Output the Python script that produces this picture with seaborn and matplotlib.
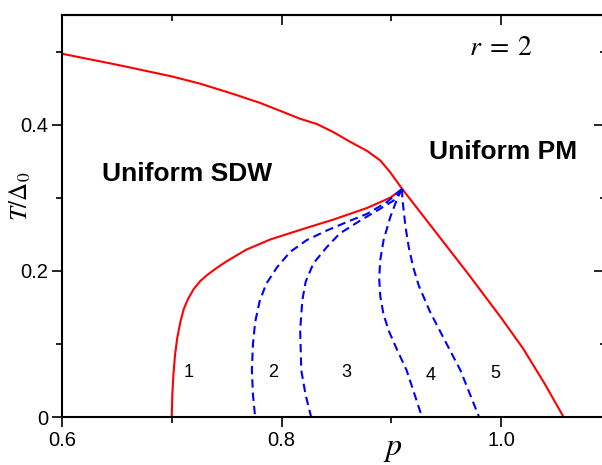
import numpy as np
import pandas as pd
import seaborn as sns
from matplotlib import pyplot as plt
from matplotlib.ticker import MultipleLocator

# SDW / PM boundary (upper red line, left of the tricritical point)
p_upper = [0.600, 0.650, 0.700, 0.726, 0.756, 0.780, 0.802, 0.817, 0.832, 0.847, 0.862, 0.878, 0.890, 0.899, 0.910]
T_upper = [0.497, 0.482, 0.466, 0.456, 0.442, 0.430, 0.417, 0.408, 0.401, 0.390, 0.377, 0.364, 0.351, 0.335, 0.312]

# PM boundary right of the tricritical point
p_right = [0.910, 0.940, 0.970, 1.000, 1.020, 1.040, 1.057]
T_right = [0.312, 0.254, 0.196, 0.136, 0.094, 0.045, 0.000]

# lower red line (uniform SDW -> modulated phases)
p_lower = [0.700, 0.7005, 0.7015, 0.703, 0.705, 0.708, 0.711, 0.715, 0.720, 0.726, 0.732, 0.741,
           0.750, 0.768, 0.790, 0.817, 0.847, 0.878, 0.899, 0.910]
T_lower = [0.000, 0.030, 0.058, 0.085, 0.108, 0.131, 0.148, 0.162, 0.175, 0.186, 0.194, 0.204,
           0.213, 0.229, 0.243, 0.256, 0.270, 0.286, 0.300, 0.312]

# blue dashed boundaries between regions 2..5
p_b2 = [0.910, 0.896, 0.878, 0.860, 0.841, 0.823, 0.808, 0.796, 0.786, 0.780, 0.776, 0.774, 0.773, 0.774, 0.776]
T_b2 = [0.312, 0.294, 0.278, 0.267, 0.255, 0.242, 0.226, 0.205, 0.182, 0.158, 0.130, 0.100, 0.064, 0.030, 0.000]
p_b3 = [0.910, 0.902, 0.890, 0.872, 0.853, 0.841, 0.829, 0.822, 0.819, 0.817, 0.818, 0.822, 0.827]
T_b3 = [0.312, 0.296, 0.285, 0.269, 0.251, 0.232, 0.210, 0.185, 0.160, 0.119, 0.064, 0.030, 0.000]
p_b4 = [0.910, 0.906, 0.899, 0.893, 0.890, 0.889, 0.890, 0.893, 0.898, 0.905, 0.914, 0.928]
T_b4 = [0.312, 0.301, 0.273, 0.242, 0.215, 0.190, 0.165, 0.140, 0.117, 0.093, 0.064, 0.000]
p_b5 = [0.910, 0.910, 0.911, 0.913, 0.916, 0.920, 0.925, 0.935, 0.947, 0.963, 0.980]
T_b5 = [0.312, 0.300, 0.287, 0.260, 0.232, 0.205, 0.180, 0.145, 0.110, 0.064, 0.000]

region_labels = ['1', '2', '3', '4', '5']
region_p = [0.7155, 0.792, 0.859, 0.936, 0.995]
region_T = [0.061, 0.061, 0.061, 0.057, 0.059]

sns.set_style('ticks')
plt.rcParams['font.family'] = ['Liberation Sans', 'DejaVu Sans']
plt.rcParams['mathtext.fontset'] = 'stix'
for k in ['text.color', 'axes.labelcolor', 'xtick.color', 'ytick.color']:
    plt.rcParams[k] = 'black'

fig = plt.figure(figsize=(6.02, 4.65), dpi=100)
ax = fig.add_axes([62 / 602, 48 / 465, 542 / 602, 402 / 465])

red = '#ff0000'
blue = '#0000ff'
for px, ty in [(p_upper, T_upper), (p_right, T_right), (p_lower, T_lower)]:
    df = pd.DataFrame({'p': px, 'T': ty})
    sns.lineplot(data=df, x='p', y='T', sort=False, estimator=None, color=red, lw=1.5, ax=ax)
for px, ty in [(p_b2, T_b2), (p_b3, T_b3), (p_b4, T_b4), (p_b5, T_b5)]:
    df = pd.DataFrame({'p': px, 'T': ty})
    sns.lineplot(data=df, x='p', y='T', sort=False, estimator=None, color=blue, lw=1.5,
                 linestyle=(0, (4, 2.4)), ax=ax)

for lab, x, y in zip(region_labels, region_p, region_T):
    ax.text(x, y, lab, fontsize=13, ha='center', va='center')

ax.text(0.714, 0.332, 'Uniform SDW', fontsize=19, fontweight='bold', ha='center', va='center')
ax.text(1.002, 0.362, 'Uniform PM', fontsize=19, fontweight='bold', ha='center', va='center')
ax.text(1.0, 0.505, r'$r\;=\;2$', fontsize=20, ha='center', va='center')

ax.set_xlim(0.6, 0.6 + 542 / 1097.5)
ax.set_ylim(0, 0.55)
ax.xaxis.set_major_locator(MultipleLocator(0.2))
ax.xaxis.set_minor_locator(MultipleLocator(0.1))
ax.yaxis.set_major_locator(MultipleLocator(0.2))
ax.yaxis.set_minor_locator(MultipleLocator(0.1))
ax.xaxis.set_major_formatter(lambda v, pos: f'{v:.1f}')
ax.yaxis.set_major_formatter(lambda v, pos: '0' if abs(v) < 1e-9 else f'{v:.1f}')

ax.tick_params(which='major', direction='out', length=7, width=1.2, labelsize=14.5, pad=3,
               top=False, right=False)
ax.tick_params(which='minor', direction='out', length=4, width=1.2, top=False, right=False)
ax2 = ax.secondary_xaxis('top')
ax2.xaxis.set_major_locator(MultipleLocator(0.2))
ax2.xaxis.set_minor_locator(MultipleLocator(0.1))
ax2.tick_params(which='major', direction='in', length=7, width=1.2, labeltop=False)
ax2.tick_params(which='minor', direction='in', length=4, width=1.2)
ax2.spines['top'].set_linewidth(1.5)
ax3 = ax.secondary_yaxis('right')
ax3.yaxis.set_major_locator(MultipleLocator(0.2))
ax3.yaxis.set_minor_locator(MultipleLocator(0.1))
ax3.tick_params(which='major', direction='in', length=7, width=1.2, labelright=False)
ax3.tick_params(which='minor', direction='in', length=3, width=1.2)

for s in ax.spines.values():
    s.set_linewidth(1.5)
    s.set_color('black')

ax.set_xlabel(r'$p$', fontsize=23)
ax.xaxis.set_label_coords((393 - 62) / 542, -0.042)
ax.set_ylabel(r'$T/\Delta_0$', fontsize=18)
ax.yaxis.set_label_coords((33 - 62) / 542, (417 - 196) / 402)

fig.savefig('out.png', dpi=100)
